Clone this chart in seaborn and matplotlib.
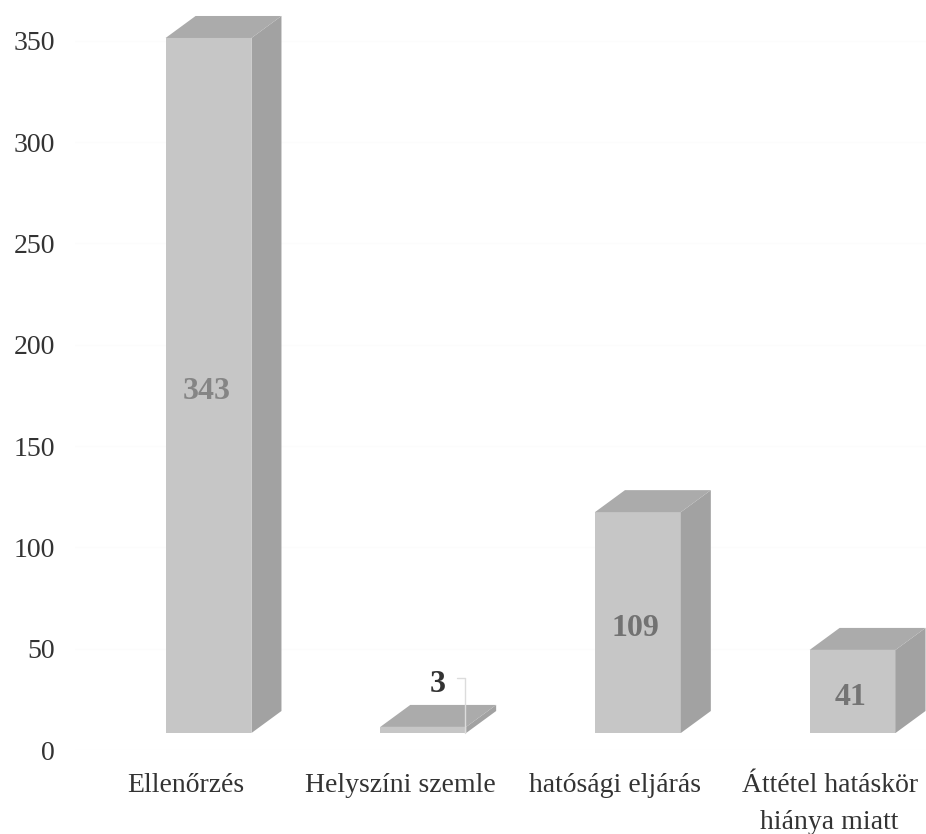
import numpy as np
import pandas as pd
import seaborn as sns
import matplotlib
matplotlib.use("Agg")
import matplotlib.pyplot as plt
from matplotlib.patches import Polygon
from matplotlib.transforms import offset_copy

# Adatok
categories = ["Ellenőrzés", "Helyszíni szemle", "hatósági eljárás", "Áttétel hatáskör\nhiánya miatt"]
values = [343, 3, 109, 41]
y_ticks = [0, 50, 100, 150, 200, 250, 300, 350]

# Stílus
FRONT = "#c6c6c6"
TOP = "#ababab"
SIDE = "#a2a2a2"
DPI = 100
FLOOR_PX = 17     # a hasábok alja ennyivel van a 0 felirat fölött
DEPTH_X_PX = 30
DEPTH_Y_PX = 22

sns.set_theme(style="whitegrid", rc={"grid.color": "#fcfcfc", "grid.linewidth": 1.0})
plt.rcParams["font.family"] = ["Liberation Serif", "DejaVu Serif"]

fig = plt.figure(figsize=(9.26, 8.34), dpi=DPI)
ax = fig.add_axes([75 / 926, 1 - 750 / 834, 851 / 926, 740 / 834])

df = pd.DataFrame({"kategoria": categories, "ertek": values})
sns.barplot(data=df, x="kategoria", y="ertek", color=FRONT, saturation=1, width=0.4, ax=ax, zorder=3)

ax.set_xlim(-0.622, 3.342)
ax.set_ylim(0, 365.2)
ax.set_xlabel("")
ax.set_ylabel("")
sns.despine(ax=ax, left=True, bottom=True)
ax.xaxis.grid(False)

# a feliratok balra el vannak tolva a hasábokhoz képest
ax.set_xticks(np.arange(len(categories)) - 23 / 214.7, labels=categories)
ax.set_yticks(y_ticks)
ax.tick_params(axis="x", length=0, pad=16.7, labelsize=20, labelcolor="#333333")
ax.tick_params(axis="y", length=0, pad=14.5, labelsize=20, labelcolor="#333333")
for lab in ax.get_xticklabels():
    lab.set_linespacing(1.6)

shifted = offset_copy(ax.transData, fig=fig, x=0, y=FLOOR_PX * 72 / DPI, units="points")
dx = DEPTH_X_PX * 3.964 / 851
dy = DEPTH_Y_PX * 365.2 / 740

label_colors = ["#858585", "#333333", "#727272", "#747474"]
rects = list(ax.patches)
for rect, val, col in zip(rects, values, label_colors):
    rect.set_transform(shifted)
    rect.set_clip_on(False)
    rect.set_edgecolor("none")
    x0, x1 = rect.get_x(), rect.get_x() + rect.get_width()
    top = rect.get_height()

    # oldalsó és felső lap
    ax.add_patch(Polygon([(x1, 0), (x1 + dx, dy), (x1 + dx, top + dy), (x1, top)],
                         closed=True, fc=SIDE, ec="none", transform=shifted, clip_on=False, zorder=3))
    ax.add_patch(Polygon([(x0, top), (x0 + dx, top + dy), (x1 + dx, top + dy), (x1, top)],
                         closed=True, fc=TOP, ec="none", transform=shifted, clip_on=False, zorder=3))

    xc = (x0 + x1) / 2
    if val < 10:
        # kicsi érték: a felirat a hasáb fölött, vékony vezetővonallal
        ax.text(xc + 14 / 214.7, val + 21, str(val), transform=shifted, ha="center", va="center",
                fontsize=23, fontweight="bold", color=col, zorder=4)
        ax.plot([x1 - 9 / 214.7, x1 - 1 / 214.7, x1 - 1 / 214.7], [val + 24, val + 24, 0],
                transform=shifted, color="#dcdcdc", lw=1, clip_on=False, zorder=4)
    else:
        ax.text(xc - 2 / 214.7, top / 2 - 3, str(val), transform=shifted, ha="center", va="center",
                fontsize=23, fontweight="bold", color=col, zorder=4)

fig.savefig("out.png", dpi=DPI, facecolor="white")
